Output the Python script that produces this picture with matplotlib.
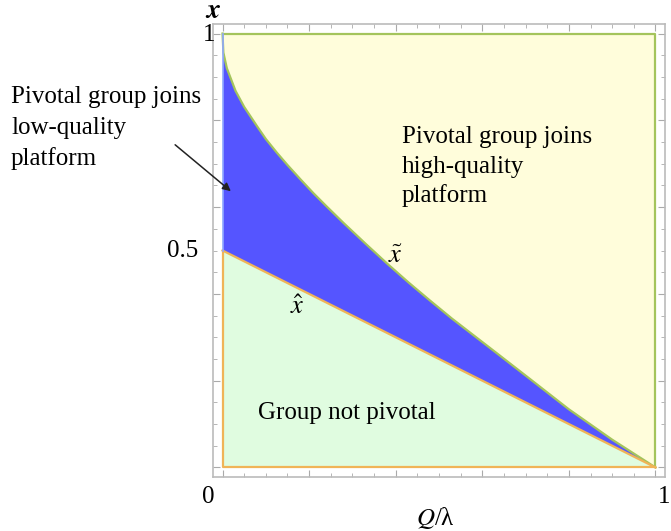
import matplotlib
matplotlib.use("Agg")
import matplotlib.pyplot as plt
import numpy as np
from matplotlib.ticker import MultipleLocator

plt.rcParams["font.family"] = ["Liberation Serif", "DejaVu Serif"]
plt.rcParams["mathtext.fontset"] = "stix"

# boundary curves
q_tilde = [0, 0.002, 0.01, 0.03, 0.05, 0.08, 0.10, 0.125, 0.15, 0.18, 0.21, 0.24, 0.28,
           0.33, 0.38, 0.43, 0.48, 0.53, 0.63, 0.71, 0.80, 0.90, 1.0]
x_tilde = [1.0, 0.956, 0.92, 0.868, 0.831, 0.786, 0.757, 0.726, 0.697, 0.664, 0.632, 0.602, 0.563,
           0.516, 0.470, 0.426, 0.384, 0.343, 0.266, 0.204, 0.134, 0.064, 0.0]
q_hat = [0, 1]
x_hat = [0.5, 0]

c_yellow = "#fffddb"
c_blue = "#5555ff"
c_green = "#e0fce0"
c_edge_g = "#a4c45c"
c_edge_o = "#f0b457"

W, H = 671, 531
fig = plt.figure(figsize=(W / 100, H / 100), dpi=100)
ax = fig.add_axes([213 / W, 1 - 477 / H, (665 - 213) / W, (477 - 24) / H])

q = np.array(q_tilde)
xt = np.array(x_tilde)
xh = np.interp(q, q_hat, x_hat)

ax.fill_between(q, xt, 1, color=c_yellow, lw=0)
ax.fill_between(q, xh, xt, color=c_blue, lw=0)
ax.fill_between(q, 0, xh, color=c_green, lw=0)

ax.plot(q, xt, color=c_edge_g, lw=1.6, solid_joinstyle="round")
ax.plot([0, 1, 1], [1, 1, 0], color=c_edge_g, lw=1.6)
ax.plot(q_hat, x_hat, color=c_edge_o, lw=1.6)
ax.plot([0, 0, 1], [0.5, 0, 0], color=c_edge_o, lw=1.6)
ax.plot([0, 0], [0.5, 1], color="#8fa8ff", lw=1.2)

pad = 0.022
ax.set_xlim(-pad, 1 + pad)
ax.set_ylim(-pad, 1 + pad)
for s in ax.spines.values():
    s.set_color("#bbbbbb")
    s.set_linewidth(1.2)
ax.xaxis.set_major_locator(MultipleLocator(0.2))
ax.xaxis.set_minor_locator(MultipleLocator(0.05))
ax.yaxis.set_major_locator(MultipleLocator(0.2))
ax.yaxis.set_minor_locator(MultipleLocator(0.05))
ax.tick_params(which="both", direction="in", top=True, right=True,
               labelbottom=False, labelleft=False, color="#aaaaaa")
ax.tick_params(which="major", length=5, width=0.8)
ax.tick_params(which="minor", length=3, width=0.6)


def ftext(px, py, s, **kw):
    fig.text(px / W, 1 - py / H, s, **kw)


fs = 18
ftext(11, 103, "Pivotal group joins", fontsize=fs, va="baseline")
ftext(11, 134, "low-quality", fontsize=fs, va="baseline")
ftext(11, 165, "platform", fontsize=fs, va="baseline")
ftext(402, 143, "Pivotal group joins", fontsize=fs, va="baseline")
ftext(402, 173, "high-quality", fontsize=fs, va="baseline")
ftext(402, 202, "platform", fontsize=fs, va="baseline")
ftext(258, 419, "Group not pivotal", fontsize=fs, va="baseline")

ftext(395, 257, r"$\tilde{x}$", fontsize=19, ha="center", va="center")
ftext(297, 307, r"$\hat{x}$", fontsize=19, ha="center", va="center")

ftext(209, 35, "1", fontsize=fs, ha="center", va="center")
ftext(183, 251, "0.5", fontsize=fs, ha="center", va="center")
ftext(208, 497, "0", fontsize=fs, ha="center", va="center")
ftext(670, 497, "1", fontsize=fs, ha="right", va="center")
ftext(213, 11, r"$\boldsymbol{x}$", fontsize=20, ha="center", va="center")
ftext(435, 518, r"$\mathit{Q}$/λ", fontsize=fs, ha="center", va="center")

fig.add_artist(plt.Annotation("", xy=(233 / W, 1 - 193 / H), xytext=(173 / W, 1 - 143 / H),
                              xycoords="figure fraction", textcoords="figure fraction",
                              arrowprops=dict(arrowstyle="-|>", color="#222222", lw=1.1,
                                              mutation_scale=12)))

fig.savefig("out.png", dpi=100)
